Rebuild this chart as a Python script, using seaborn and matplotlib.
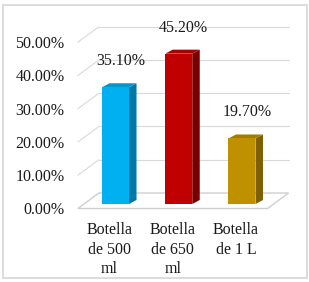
import matplotlib
matplotlib.use("Agg")
import matplotlib.pyplot as plt
import matplotlib.transforms as mtransforms
from matplotlib.patches import Polygon, Rectangle
import seaborn as sns

# data
categorias = ["Botella\nde 500\nml", "Botella\nde 650\nml", "Botella\nde 1 L"]
porcentajes = [35.1, 45.2, 19.7]
etiquetas = ["35.10%", "45.20%", "19.70%"]
ticks_y = [0, 10, 20, 30, 40, 50]

# styling
frente = ["#00b0f0", "#c00000", "#bf9000"]
lado = ["#0078a8", "#7a0000", "#7f6000"]
tapa = ["#0096cf", "#a30000", "#a37b00"]
grid_col = "#d9d9d9"
txt_col = "#1a1a1a"
fuente = "Liberation Serif"
fs = 11.5

W, H = 309, 282
fig = plt.figure(figsize=(W / 100, H / 100), dpi=100)
sns.set_style("white")
plt.rcParams["font.family"] = [fuente, "DejaVu Serif"]

# axes = plane in which the bars stand
x0, x1 = 83.9, 273.6
y_base, y_top = 204, 204 - 55 * 3.326
ax = fig.add_axes([x0 / W, (H - y_base) / H, (x1 - x0) / W, (y_base - y_top) / H])

sns.barplot(x=categorias, y=porcentajes, hue=categorias, palette=frente,
            width=0.427, saturation=1, legend=False, ax=ax, zorder=3,
            linewidth=0)
ax.set_xlim(-0.5, 2.5)
ax.set_ylim(0, 55)
for s in ax.spines.values():
    s.set_visible(False)

# pixel -> data unit conversion
pxu = (x1 - x0) / 3.0
pyu = (y_base - y_top) / 55.0
fdx, fdy = -6 / pxu, -4.5 / pyu      # front plane
bdx, bdy = 15 / pxu, 11 / pyu        # back wall
ddx, ddy = 7.5 / pxu, 4 / pyu        # bar depth

# floor
floor = Polygon([(-0.5 + fdx, fdy), (2.5 + fdx, fdy), (2.5 + bdx, bdy), (-0.5 + bdx, bdy)],
                closed=True, facecolor="white", edgecolor="#cfcfcf", lw=1.0,
                zorder=1, clip_on=False)
ax.add_patch(floor)
# gridlines on back and side walls
for t in ticks_y[1:]:
    ax.plot([-0.5 + fdx, -0.5 + bdx], [t + fdy, t + bdy], color=grid_col, lw=0.8,
            zorder=0.5, clip_on=False)
    ax.plot([-0.5 + bdx, 2.5 + bdx], [t + bdy, t + bdy], color=grid_col, lw=0.8,
            zorder=0.5, clip_on=False)

# 3d faces from the seaborn bars
for i, p in enumerate(ax.patches[:len(porcentajes)]):
    if isinstance(p, Polygon):
        continue
    xl, w, h = p.get_x(), p.get_width(), p.get_height()
    xr = xl + w
    side = Polygon([(xr, 0), (xr + ddx, ddy), (xr + ddx, h + ddy), (xr, h)],
                   closed=True, facecolor=lado[i], lw=0, zorder=2.9, clip_on=False)
    top = Polygon([(xl, h), (xr, h), (xr + ddx, h + ddy), (xl + ddx, h + ddy)],
                  closed=True, facecolor=tapa[i], lw=0, zorder=2.9, clip_on=False)
    ax.add_patch(side)
    ax.add_patch(top)
    ax.annotate(etiquetas[i], xy=(xl + w / 2, h), xytext=(5, 26),
                textcoords="offset pixels", ha="center", va="center",
                fontsize=fs, color=txt_col, family=fuente, zorder=5,
                annotation_clip=False)

# ticks
ax.set_yticks(ticks_y)
ax.set_yticklabels([f"{t:.2f}%" for t in ticks_y])
ax.tick_params(axis="y", length=0, pad=14, labelsize=fs, labelcolor=txt_col)
ax.tick_params(axis="x", length=0, pad=13, labelsize=fs, labelcolor=txt_col)
shift_y = mtransforms.ScaledTranslation(0, -4.5 / 100, fig.dpi_scale_trans)
shift_x = mtransforms.ScaledTranslation(-6 / 100, 0, fig.dpi_scale_trans)
for lab in ax.get_yticklabels():
    lab.set_transform(lab.get_transform() + shift_y)
    lab.set_family(fuente)
for lab in ax.get_xticklabels():
    lab.set_transform(lab.get_transform() + shift_x)
    lab.set_linespacing(1.3)
    lab.set_family(fuente)

# outer border
fig.patches.append(Rectangle((3 / W, 4 / H), 304 / W, 273 / H, transform=fig.transFigure,
                             fill=False, edgecolor=grid_col, lw=1.3))

fig.savefig("out.png", dpi=100)
